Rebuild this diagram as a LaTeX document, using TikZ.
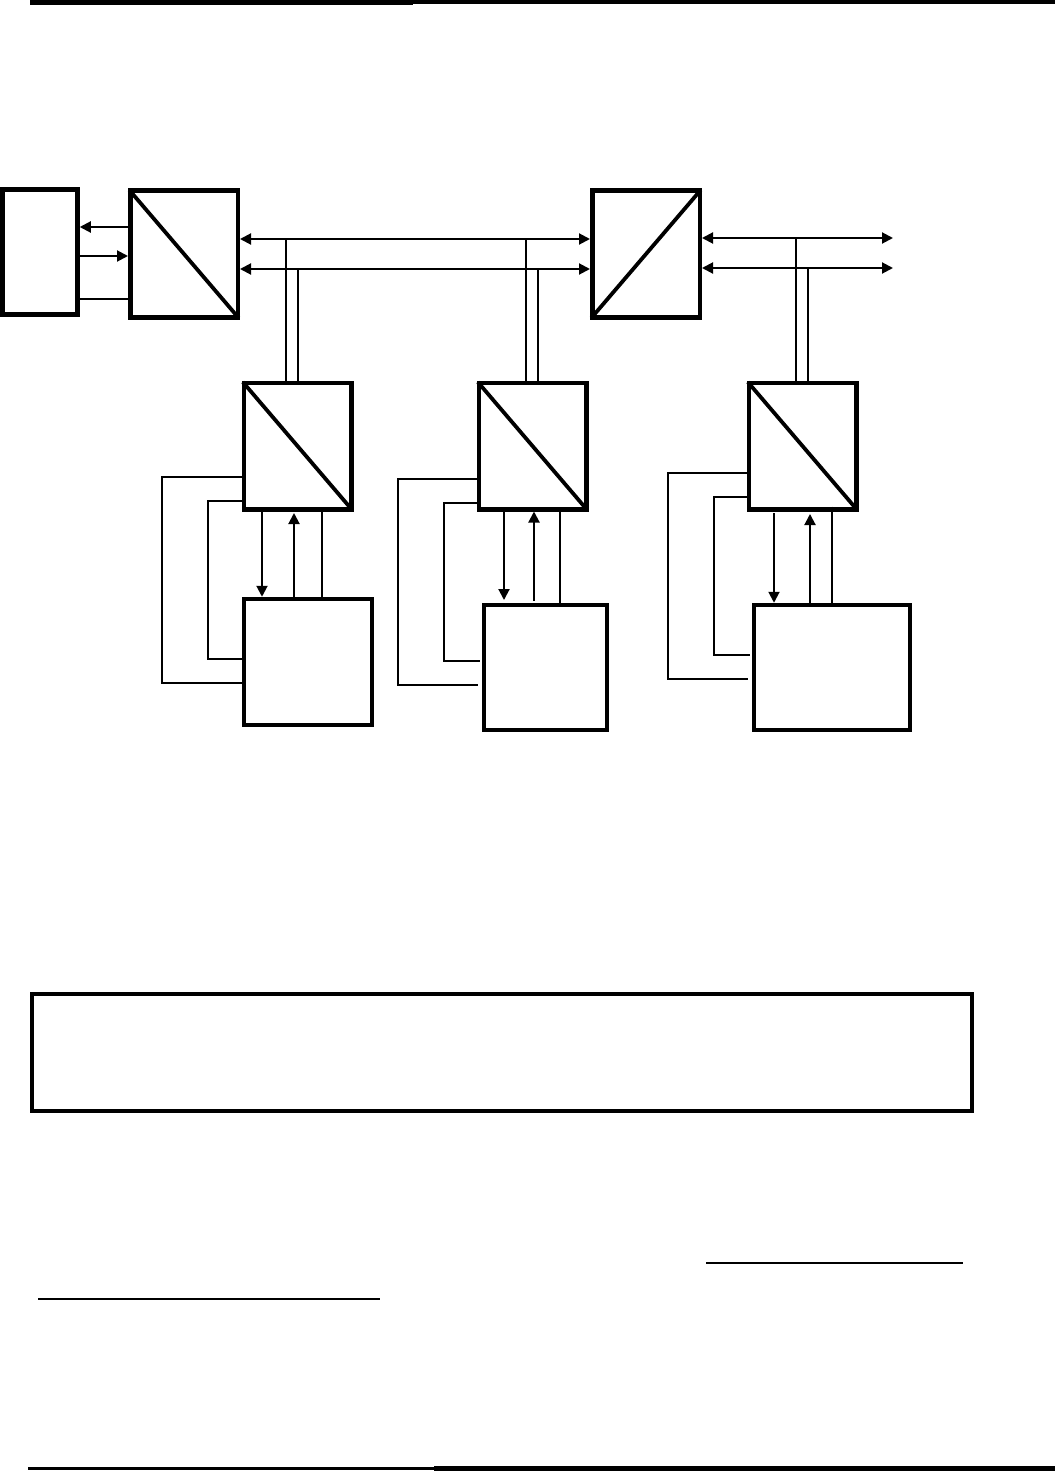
\documentclass[tikz,border=0pt]{standalone}
\usepackage{xcolor}
\usepackage{tikz}
\usetikzlibrary{arrows.meta}
\tikzset{
  block/.style={rectangle,draw=black,line width=4.5pt,inner sep=0pt,minimum width=#1},
  convbox/.style={block=107.5pt,minimum height=126.5pt},
  loadbox/.style 2 args={block=#1,minimum height=#2},
  slash/.style={line width=3.8pt,shorten <=2pt,shorten >=2pt},
  wire/.style={line width=2pt,draw=black},
  arrow/.style={wire,-{Triangle[length=11pt,width=11pt]}},
  backarrow/.style={wire,{Triangle[length=11pt,width=11pt]}-},
  busarrow/.style={wire,{Triangle[length=11pt,width=11pt]}-{Triangle[length=11pt,width=11pt]}},
  rulebar/.style={line width=#1,draw=black},
  rulebar/.default=5pt
}
\begin{document}
\begin{tikzpicture}[x=1pt,y=-1pt]
\useasboundingbox (0,0) rectangle (1055,1471);
\node[loadbox={75pt}{125pt}] (host) at (40,252) {};
\node[convbox] (conv1) at (184,254) {};
\node[convbox] (conv4) at (646,254) {};
\node[convbox] (conv2) at (297.5,446) {};
\node[convbox] (conv3) at (532.5,446) {};
\node[convbox] (conv5) at (802.5,446) {};
\node[loadbox={128pt}{126pt}] (load1) at (308,662) {};
\node[loadbox={123pt}{125pt}] (load2) at (545.5,667.5) {};
\node[loadbox={156pt}{125pt}] (load3) at (832,667.5) {};
\node[loadbox={940pt}{117pt}] (caption) at (502,1052.5) {};
\coordinate (out1) at (893,238);
\coordinate (out2) at (893,268);
% slashes inside the converters
\draw[slash] (conv1.north west) -- (conv1.south east);
\draw[slash] (conv2.north west) -- (conv2.south east);
\draw[slash] (conv3.north west) -- (conv3.south east);
\draw[slash] (conv5.north west) -- (conv5.south east);
\draw[slash] (conv4.south west) -- (conv4.north east);
% host to first converter
\draw[arrow] (conv1.west |- 0,227) -- (host.east |- 0,227);
\draw[arrow] (host.east |- 0,256) -- (conv1.west |- 0,256);
\draw[wire] (host.east |- 0,299) -- (conv1.west |- 0,299);
% the two buses
\draw[busarrow] (conv1.east |- 0,239) -- (conv4.west |- 0,239);
\draw[busarrow] (conv1.east |- 0,269) -- (conv4.west |- 0,269);
\draw[busarrow] (conv4.east |- out1) -- (out1);
\draw[busarrow] (conv4.east |- out2) -- (out2);
% drops from the buses
\draw[wire] (286,239) -- (286,0 |- conv2.north);
\draw[wire] (298,269) -- (298,0 |- conv2.north);
\draw[wire] (526,239) -- (526,0 |- conv3.north);
\draw[wire] (538,269) -- (538,0 |- conv3.north);
\draw[wire] (796,238) -- (796,0 |- conv5.north);
\draw[wire] (808,268) -- (808,0 |- conv5.north);
% first load
\draw[arrow] (262,0 |- conv2.south) -- (262,0 |- load1.north);
\draw[arrow] (294,0 |- load1.north) -- (294,513);
\draw[wire] (322,0 |- conv2.south) -- (322,0 |- load1.north);
\draw[wire] (conv2.west |- 0,477) -| (162,580) |- (load1.west |- 0,683);
\draw[wire] (conv2.west |- 0,501) -| (208,580) |- (load1.west |- 0,659);
% second load
\draw[arrow] (504,0 |- conv3.south) -- (504,600);
\draw[arrow] (534,601) -- (534,0 |- conv3.south);
\draw[wire] (560,0 |- conv3.south) -- (560,0 |- load2.north);
\draw[wire,shorten >=4pt] (conv3.west |- 0,479) -| (398,580) |- (load2.west |- 0,685);
\draw[wire,shorten >=2pt] (conv3.west |- 0,503) -| (444,580) |- (load2.west |- 0,661);
% third load
\draw[arrow] (774,513) -- (774,0 |- load3.north);
\draw[arrow] (810,0 |- load3.north) -- (810,514);
\draw[wire,shorten <=-5pt] (832,0 |- conv5.south) -- (832,0 |- load3.north);
\draw[wire,shorten >=4pt] (conv5.west |- 0,473) -| (668,580) |- (load3.west |- 0,679);
\draw[wire,shorten >=2pt] (conv5.west |- 0,497) -| (714,580) |- (load3.west |- 0,655);
% page rules and underlines
\draw[rulebar=4.5pt] (30,2.5) -- (413,2.5);
\draw[rulebar=3.5pt] (413,2) -- (1055,2);
\draw[rulebar=3.5pt] (28,1468.7) -- (434,1468.7);
\draw[rulebar] (434,1468.5) -- (1055,1468.5);
\draw[rulebar=2.2pt] (706,1263) -- (963,1263);
\draw[rulebar=2.2pt] (38,1299) -- (380,1299);
\end{tikzpicture}
\end{document}
